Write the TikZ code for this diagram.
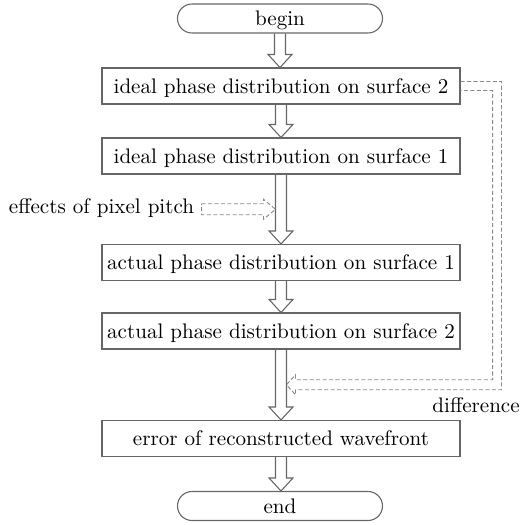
\documentclass[tikz,border=0pt]{standalone}
\usetikzlibrary{calc,shapes.misc}
\definecolor{boxline}{HTML}{666666}
\definecolor{dashcol}{HTML}{8A8A8A}
\tikzset{
  x=0.4651pt, y=-0.4651pt,
  every node/.style={font=\fontsize{9.8}{12}\selectfont, text=black},
  procbox/.style={draw=boxline, line width=0.5pt, rectangle, minimum width=358*0.4651pt,
    minimum height=36*0.4651pt, inner sep=0pt, text height=0.69em, text depth=0pt},
  termbox/.style={draw=boxline, line width=0.5pt, rounded rectangle, minimum width=205*0.4651pt,
    minimum height=29*0.4651pt, inner sep=0pt, text height=0.69em, text depth=0pt},
  flowline/.style={draw=boxline, line width=0.5pt, line join=miter},
  fbline/.style={draw=dashcol, line width=0.45pt, dash pattern=on 1.9pt off 1.1pt},
}
\newcommand\flowarrow[2]{%
  \draw[flowline] ($(#1.south)+(-5.5,0)$) -- ($(#1.south |- #2.north)+(-5.5,-13)$)
    -- ($(#1.south |- #2.north)+(-12,-13)$) -- (#1.south |- #2.north)
    -- ($(#1.south |- #2.north)+(12,-13)$) -- ($(#1.south |- #2.north)+(5.5,-13)$)
    -- ($(#1.south)+(5.5,0)$);}
\begin{document}
\begin{tikzpicture}
\useasboundingbox (0,0) rectangle (522,525);
\node[termbox] (begin) at (280,18.5) {begin};
\node[procbox] (s2i) at (281,86) {ideal phase distribution on surface 2};
\node[procbox] (s1i) at (281,156) {ideal phase distribution on surface 1};
\node[procbox] (s1a) at (281,262.5) {actual phase distribution on surface 1};
\node[procbox] (s2a) at (281,331) {actual phase distribution on surface 2};
\node[procbox] (err) at (281,438.5) {error of reconstructed wavefront};
\node[termbox] (end) at (280,506) {end};
\node[anchor=base, inner sep=3.3pt] (pix) at (101.5,213) {effects of pixel pitch};
\node[anchor=base west, inner sep=0pt] (diff) at (432,412) {difference};

\flowarrow{begin}{s2i}
\flowarrow{s2i}{s1i}
\flowarrow{s1i}{s1a}
\flowarrow{s1a}{s2a}
\flowarrow{s2a}{err}
\flowarrow{err}{end}

\coordinate (pxtip) at ($($(s1i.south)!0.5!(s1a.north)$)+(-5.5,0)$);
\draw[fbline] ($(pix.east |- pxtip)+(0,-5.5)$) -- ($(pxtip)+(-12,-5.5)$)
  -- ($(pxtip)+(-12,-10)$) -- (pxtip) -- ($(pxtip)+(-12,10)$)
  -- ($(pxtip)+(-12,5.5)$) -- ($(pix.east |- pxtip)+(0,5.5)$) -- cycle;

\coordinate (fbtip) at ($($(s2a.south)!0.5!(err.north)$)+(5.5,0)$);
\draw[fbline] ($(s2i.east)+(0,-4.5)$) -| ($(fbtip)+(215,5)$) -- ($(fbtip)+(9,5)$)
  -- ($(fbtip)+(9,10)$) -- (fbtip) -- ($(fbtip)+(9,-10)$) -- ($(fbtip)+(9,-5)$)
  -| ($(s2i.east)+(32,4.5)$) -- ($(s2i.east)+(0,4.5)$);
\end{tikzpicture}
\end{document}
